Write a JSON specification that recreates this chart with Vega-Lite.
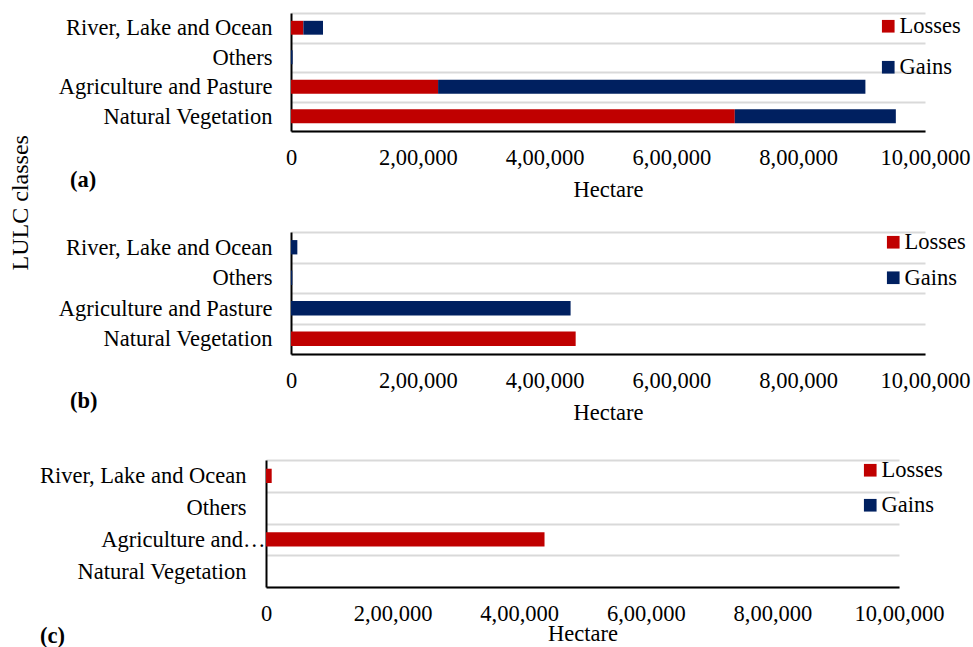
{
  "$schema": "https://vega.github.io/schema/vega-lite/v6.json",
  "background": "white",
  "padding": {"left": 8, "top": 2, "right": 5, "bottom": 0},
  "config": {
    "font": "Liberation Serif",
    "view": {"stroke": null},
    "axis": {
      "labelFont": "Liberation Serif",
      "titleFont": "Liberation Serif",
      "labelFontSize": 22.5,
      "titleFontSize": 22.5,
      "labelColor": "#000000",
      "titleColor": "#000000",
      "titleFontWeight": "normal",
      "ticks": false,
      "domainColor": "#000000",
      "domainWidth": 2
    },
    "legend": {
      "labelFont": "Liberation Serif",
      "labelFontSize": 22.5,
      "labelColor": "#000000",
      "symbolType": "square",
      "symbolSize": 160,
      "symbolStrokeWidth": 0,
      "symbolOpacity": 1,
      "labelOffset": 0,
      "padding": 0
    },
    "title": {"font": "Liberation Serif", "color": "#000000"}
  },
  "title": {
    "text": "LULC classes",
    "orient": "left",
    "anchor": "middle",
    "fontSize": 24,
    "fontWeight": "normal",
    "dx": 122
  },
  "data": {
    "values": [
      {"panel": "a", "cls": "River, Lake and Ocean", "type": "Losses", "ha": 19500},
      {"panel": "a", "cls": "River, Lake and Ocean", "type": "Gains", "ha": 31000},
      {"panel": "a", "cls": "Others", "type": "Losses", "ha": 0},
      {"panel": "a", "cls": "Others", "type": "Gains", "ha": 2500},
      {"panel": "a", "cls": "Agriculture and Pasture", "type": "Losses", "ha": 232000},
      {"panel": "a", "cls": "Agriculture and Pasture", "type": "Gains", "ha": 674000},
      {"panel": "a", "cls": "Natural Vegetation", "type": "Losses", "ha": 700000},
      {"panel": "a", "cls": "Natural Vegetation", "type": "Gains", "ha": 254000},
      {"panel": "b", "cls": "River, Lake and Ocean", "type": "Losses", "ha": 0},
      {"panel": "b", "cls": "River, Lake and Ocean", "type": "Gains", "ha": 10000},
      {"panel": "b", "cls": "Others", "type": "Losses", "ha": 0},
      {"panel": "b", "cls": "Others", "type": "Gains", "ha": 2000},
      {"panel": "b", "cls": "Agriculture and Pasture", "type": "Losses", "ha": 0},
      {"panel": "b", "cls": "Agriculture and Pasture", "type": "Gains", "ha": 441000},
      {"panel": "b", "cls": "Natural Vegetation", "type": "Losses", "ha": 449000},
      {"panel": "b", "cls": "Natural Vegetation", "type": "Gains", "ha": 0},
      {"panel": "c", "cls": "River, Lake and Ocean", "type": "Losses", "ha": 9000},
      {"panel": "c", "cls": "River, Lake and Ocean", "type": "Gains", "ha": 0},
      {"panel": "c", "cls": "Others", "type": "Losses", "ha": 0},
      {"panel": "c", "cls": "Others", "type": "Gains", "ha": 0},
      {"panel": "c", "cls": "Agriculture and Pasture", "type": "Losses", "ha": 440000},
      {"panel": "c", "cls": "Agriculture and Pasture", "type": "Gains", "ha": 0},
      {"panel": "c", "cls": "Natural Vegetation", "type": "Losses", "ha": 0},
      {"panel": "c", "cls": "Natural Vegetation", "type": "Gains", "ha": 0}
    ]
  },
  "resolve": {"scale": {"color": "independent"}, "legend": {"color": "independent"}},
  "spacing": 25,
  "vconcat": [
    {
      "spacing": 20,
      "resolve": {"scale": {"color": "independent"}, "legend": {"color": "independent"}},
      "vconcat": [
        {
          "spacing": 0,
          "resolve": {"scale": {"color": "independent"}, "legend": {"color": "independent"}},
          "hconcat": [
            {"name": "gutter_a", "data": {"values": []}, "width": 1, "height": 1, "mark": "rect", "encoding": {}},
            {
              "title": {"text": "(a)", "orient": "bottom", "anchor": "start", "frame": "group", "fontWeight": "bold", "fontSize": 22.5, "dx": -221, "dy": -36},
              "width": 634,
              "height": 118,
              "transform": [{"filter": "datum.panel == 'a'"}],
              "mark": {"type": "bar", "height": {"band": 0.47}},
              "encoding": {
                "y": {
                  "field": "cls", "type": "nominal",
                  "sort": ["River, Lake and Ocean", "Others", "Agriculture and Pasture", "Natural Vegetation"],
                  "scale": {"paddingInner": 0, "paddingOuter": 0},
                  "axis": {"title": null, "tickBand": "extent", "grid": true, "gridColor": "#d9d9d9", "gridWidth": 2, "labelPadding": 19, "minExtent": 253, "maxExtent": 400, "labelLimit": 400}
                },
                "x": {
                  "field": "ha", "type": "quantitative", "stack": "zero",
                  "scale": {"domain": [0, 1000000], "nice": false},
                  "axis": {"title": "Hectare", "values": [0, 200000, 400000, 600000, 800000, 1000000], "labelExpr": "datum.value === 0 ? '0' : format(datum.value / 100000, 'd') + ',00,000'", "grid": false, "labelPadding": 15, "titlePadding": 10, "labelFlush": false}
                },
                "color": {
                  "field": "type", "type": "nominal",
                  "scale": {"domain": ["Losses", "Gains"], "range": ["#C00000", "#002060"]},
                  "legend": {"title": null, "orient": "none", "legendX": 586, "legendY": 2, "rowPadding": 18}
                },
                "order": {"field": "type", "sort": "descending"}
              }
            }
          ]
        },
        {
          "spacing": 0,
          "resolve": {"scale": {"color": "independent"}, "legend": {"color": "independent"}},
          "hconcat": [
            {"name": "gutter_b", "data": {"values": []}, "width": 1, "height": 1, "mark": "rect", "encoding": {}},
            {
              "title": {"text": "(b)", "orient": "bottom", "anchor": "start", "frame": "group", "fontWeight": "bold", "fontSize": 22.5, "dx": -221, "dy": -38},
              "width": 634,
              "height": 122,
              "transform": [{"filter": "datum.panel == 'b'"}],
              "mark": {"type": "bar", "height": {"band": 0.47}},
              "encoding": {
                "y": {
                  "field": "cls", "type": "nominal",
                  "sort": ["River, Lake and Ocean", "Others", "Agriculture and Pasture", "Natural Vegetation"],
                  "scale": {"paddingInner": 0, "paddingOuter": 0},
                  "axis": {"title": null, "tickBand": "extent", "grid": true, "gridColor": "#d9d9d9", "gridWidth": 2, "labelPadding": 19, "minExtent": 253, "maxExtent": 400, "labelLimit": 400}
                },
                "x": {
                  "field": "ha", "type": "quantitative", "stack": "zero",
                  "scale": {"domain": [0, 1000000], "nice": false},
                  "axis": {"title": "Hectare", "values": [0, 200000, 400000, 600000, 800000, 1000000], "labelExpr": "datum.value === 0 ? '0' : format(datum.value / 100000, 'd') + ',00,000'", "grid": false, "labelPadding": 15, "titlePadding": 10, "labelFlush": false}
                },
                "color": {
                  "field": "type", "type": "nominal",
                  "scale": {"domain": ["Losses", "Gains"], "range": ["#C00000", "#002060"]},
                  "legend": {"title": null, "orient": "none", "legendX": 591, "legendY": -1, "rowPadding": 12.5}
                },
                "order": {"field": "type", "sort": "descending"}
              }
            }
          ]
        }
      ]
    },
    {
      "spacing": 0,
      "resolve": {"scale": {"color": "independent"}, "legend": {"color": "independent"}},
      "hconcat": [
        {"name": "gutter_c", "data": {"values": []}, "width": 1, "height": 1, "mark": "rect", "encoding": {}},
        {
          "title": {"text": "(c)", "orient": "bottom", "anchor": "start", "frame": "group", "fontWeight": "bold", "fontSize": 22.5, "dx": -226, "dy": -24},
          "width": 633,
          "height": 127,
          "transform": [{"filter": "datum.panel == 'c'"}],
          "mark": {"type": "bar", "height": {"band": 0.45}},
          "encoding": {
            "y": {
              "field": "cls", "type": "nominal",
              "sort": ["River, Lake and Ocean", "Others", "Agriculture and Pasture", "Natural Vegetation"],
              "scale": {"paddingInner": 0, "paddingOuter": 0},
              "axis": {
                "title": null, "tickBand": "extent", "grid": true, "gridColor": "#d9d9d9", "gridWidth": 2,
                "labelExpr": "datum.value == 'Agriculture and Pasture' ? 'Agriculture and…' : datum.value",
                "labelPadding": {"condition": {"test": "datum.value == 'Agriculture and Pasture'", "value": 1}, "value": 20},
                "minExtent": 228, "maxExtent": 400, "labelLimit": 400
              }
            },
            "x": {
              "field": "ha", "type": "quantitative", "stack": "zero",
              "scale": {"domain": [0, 1000000], "nice": false},
              "axis": {"title": "Hectare", "values": [0, 200000, 400000, 600000, 800000, 1000000], "labelExpr": "datum.value === 0 ? '0' : format(datum.value / 100000, 'd') + ',00,000'", "grid": false, "labelPadding": 15, "titlePadding": -2, "labelFlush": false}
            },
            "color": {
              "field": "type", "type": "nominal",
              "scale": {"domain": ["Losses", "Gains"], "range": ["#C00000", "#002060"]},
              "legend": {"title": null, "orient": "none", "legendX": 593, "legendY": -1, "rowPadding": 12}
            },
            "order": {"field": "type", "sort": "descending"}
          }
        }
      ]
    }
  ]
}
